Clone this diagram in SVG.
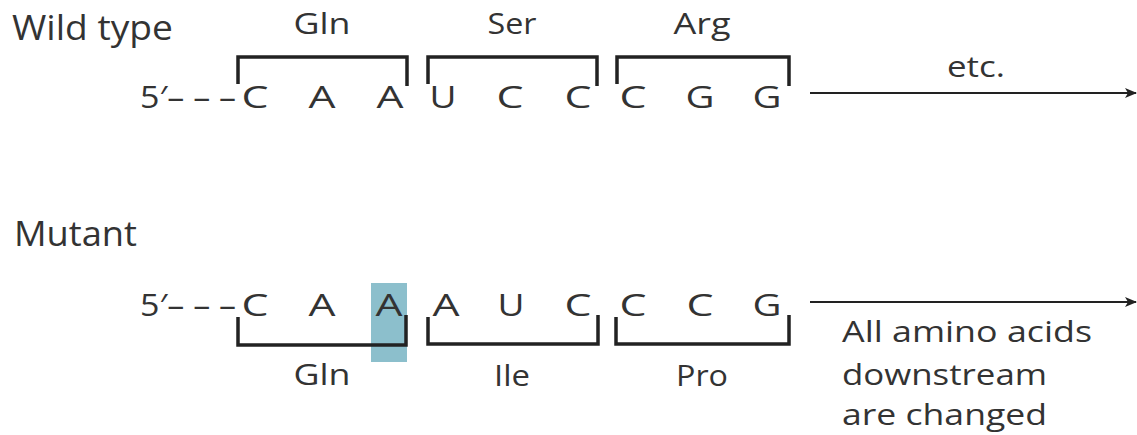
<svg xmlns="http://www.w3.org/2000/svg" width="1137" height="435" viewBox="0 0 1137 435">
<defs>
<marker id="ah" markerWidth="12" markerHeight="10" refX="11" refY="5" orient="auto" markerUnits="userSpaceOnUse">
<path d="M0,0 L12,5 L0,10 L3,5 Z" fill="#222"/>
</marker>
<style>
text{font-family:"Open Sans","Liberation Sans",sans-serif;fill:#333}
.lbl{font-size:34px}
.nt{font-size:31px;text-anchor:middle}
.aa{font-size:29px;text-anchor:middle}
.note{font-size:30px}
.br{fill:none;stroke:#222;stroke-width:3.5;stroke-linejoin:miter}
.ar{fill:none;stroke:#222;stroke-width:2}
</style>
</defs>
<rect width="1137" height="435" fill="#fff"/>
<g id="wild">
<text class="lbl" x="12" y="40" textLength="161" lengthAdjust="spacingAndGlyphs">Wild type</text>
<text class="nt" x="140" y="108" style="text-anchor:start" textLength="96" lengthAdjust="spacingAndGlyphs">5′– – –</text>
<text class="nt" x="255" y="108" textLength="27" lengthAdjust="spacingAndGlyphs">C</text>
<text class="nt" x="322" y="108" textLength="27" lengthAdjust="spacingAndGlyphs">A</text>
<text class="nt" x="390" y="108" textLength="27" lengthAdjust="spacingAndGlyphs">A</text>
<text class="nt" x="443" y="108" textLength="27" lengthAdjust="spacingAndGlyphs">U</text>
<text class="nt" x="510" y="108" textLength="27" lengthAdjust="spacingAndGlyphs">C</text>
<text class="nt" x="578" y="108" textLength="27" lengthAdjust="spacingAndGlyphs">C</text>
<text class="nt" x="633" y="108" textLength="27" lengthAdjust="spacingAndGlyphs">C</text>
<text class="nt" x="700" y="108" textLength="29" lengthAdjust="spacingAndGlyphs">G</text>
<text class="nt" x="767" y="108" textLength="29" lengthAdjust="spacingAndGlyphs">G</text>
</g>
<g id="wt-gln"><path class="br" d="M238,84 V57 H407 V86"/><text class="aa" x="322" y="34" textLength="57" lengthAdjust="spacingAndGlyphs">Gln</text></g>
<g id="wt-ser"><path class="br" d="M428,84 V57 H597 V86"/><text class="aa" x="512" y="34" textLength="49" lengthAdjust="spacingAndGlyphs">Ser</text></g>
<g id="wt-arg"><path class="br" d="M617,84 V57 H789 V86"/><text class="aa" x="702" y="34" textLength="57" lengthAdjust="spacingAndGlyphs">Arg</text></g>
<g id="mutant">
<text class="lbl" x="14" y="246" textLength="123" lengthAdjust="spacingAndGlyphs">Mutant</text>
<rect x="371" y="283" width="36" height="79" fill="#8cbfcc"/>
<text class="nt" x="140" y="316" style="text-anchor:start" textLength="96" lengthAdjust="spacingAndGlyphs">5′– – –</text>
<text class="nt" x="255" y="316" textLength="27" lengthAdjust="spacingAndGlyphs">C</text>
<text class="nt" x="322" y="316" textLength="27" lengthAdjust="spacingAndGlyphs">A</text>
<text class="nt" x="389" y="316" textLength="27" lengthAdjust="spacingAndGlyphs">A</text>
<text class="nt" x="446" y="316" textLength="27" lengthAdjust="spacingAndGlyphs">A</text>
<text class="nt" x="511" y="316" textLength="27" lengthAdjust="spacingAndGlyphs">U</text>
<text class="nt" x="578" y="316" textLength="27" lengthAdjust="spacingAndGlyphs">C</text>
<text class="nt" x="633" y="316" textLength="27" lengthAdjust="spacingAndGlyphs">C</text>
<text class="nt" x="700" y="316" textLength="27" lengthAdjust="spacingAndGlyphs">C</text>
<text class="nt" x="767" y="316" textLength="29" lengthAdjust="spacingAndGlyphs">G</text>
</g>
<g id="mt-gln"><path class="br" d="M238,317 V345 H406 V315"/><text class="aa" x="322" y="385" textLength="57" lengthAdjust="spacingAndGlyphs">Gln</text></g>
<g id="mt-ile"><path class="br" d="M428,317 V344 H598 V315"/><text class="aa" x="512" y="386" textLength="36" lengthAdjust="spacingAndGlyphs">Ile</text></g>
<g id="mt-pro"><path class="br" d="M616,317 V344 H789 V315"/><text class="aa" x="702" y="386" textLength="52" lengthAdjust="spacingAndGlyphs">Pro</text></g>
<g id="note">
<text class="note" x="842" y="342" textLength="250" lengthAdjust="spacingAndGlyphs">All amino acids</text>
<text class="note" x="842" y="385" textLength="205" lengthAdjust="spacingAndGlyphs">downstream</text>
<text class="note" x="842" y="425" textLength="205" lengthAdjust="spacingAndGlyphs">are changed</text>
</g>
<g id="etc"><text class="aa" x="976" y="77" textLength="58" lengthAdjust="spacingAndGlyphs">etc.</text></g>
<g id="connectors">
<line class="ar" x1="810" y1="93" x2="1136" y2="93" marker-end="url(#ah)"/>
<line class="ar" x1="810" y1="302" x2="1136" y2="302" marker-end="url(#ah)"/>
</g>
</svg>
